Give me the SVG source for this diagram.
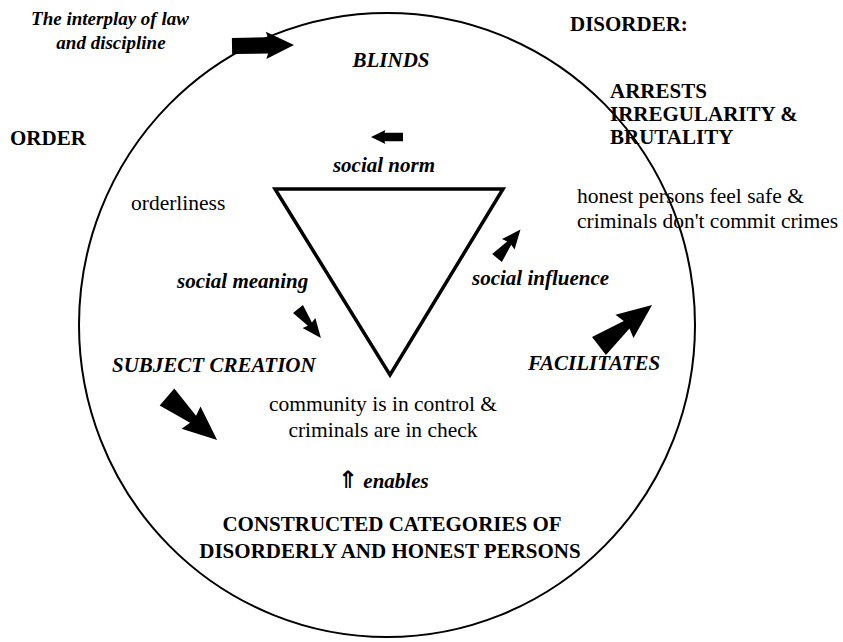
<svg xmlns="http://www.w3.org/2000/svg" xmlns:xlink="http://www.w3.org/1999/xlink" width="843" height="642" viewBox="0 0 843 642">
<style>
text{fill:#000}
.b{font-size:21px;font-weight:bold}
.bi{font-size:21px;font-weight:bold;font-style:italic}
.r{font-size:21.5px}
.ti{font-size:19px;font-weight:bold;font-style:italic}
.m{text-anchor:middle}
.ln{fill:none;stroke:#000}
.ar{fill:#000}
</style>
<defs>
<path id="fl" d="M0,-17 L52,-7 L48,-22 L100,0 L48,22 L52,7 L0,17 Z"/>
<path id="bk" d="M0,-13 L58,-13 L55,-22 L100,0 L55,22 L58,13 L0,13 Z"/>
</defs>
<rect width="843" height="642" fill="#fff"/>
<g id="shapes">
<ellipse class="ln" cx="387" cy="325" rx="308" ry="312" stroke-width="2"/>
<polygon class="ln" points="275,189 503,189 390,375" stroke-width="3.5" stroke-linejoin="miter"/>
</g>
<g id="connectors">
<use class="ar" xlink:href="#bk" transform="translate(232,46) rotate(-1) scale(0.62)"/>
<use class="ar" xlink:href="#bk" transform="translate(403,137) rotate(180) scale(0.32)"/>
<use class="ar" xlink:href="#fl" transform="translate(298,309) rotate(51.8) scale(0.37)"/>
<use class="ar" xlink:href="#fl" transform="translate(497,258) rotate(-50.6) scale(0.37)"/>
<use class="ar" xlink:href="#fl" transform="translate(167,397) rotate(40.6) scale(0.66)"/>
<use class="ar" xlink:href="#fl" transform="translate(599,346) rotate(-37.6) scale(0.67)"/>
</g>
<g font-family="Liberation Serif, Tinos, DejaVu Serif, serif">
<g id="interplay"><text class="ti m" x="110" y="25">The interplay of law</text><text class="ti m" x="111" y="49">and discipline</text></g>
<g id="blinds"><text class="bi m" x="391" y="67">BLINDS</text></g>
<g id="disorder"><text class="b" x="570" y="31">DISORDER:</text></g>
<g id="arrests"><text class="b" x="610" y="98">ARRESTS</text><text class="b" x="610" y="121">IRREGULARITY &amp;</text><text class="b" x="610" y="144">BRUTALITY</text></g>
<g id="order"><text class="b" x="10" y="145">ORDER</text></g>
<g id="orderliness"><text class="r" x="131" y="210">orderliness</text></g>
<g id="honest"><text class="r" x="577" y="203">honest persons feel safe &amp;</text><text class="r" x="577" y="228">criminals don't commit crimes</text></g>
<g id="social-norm"><text class="bi m" x="384" y="172">social norm</text></g>
<g id="social-meaning"><text class="bi" x="177" y="288">social meaning</text></g>
<g id="social-influence"><text class="bi" x="472" y="285">social influence</text></g>
<g id="subject-creation"><text class="bi" x="112" y="372">SUBJECT CREATION</text></g>
<g id="facilitates"><text class="bi" x="528" y="370">FACILITATES</text></g>
<g id="community"><text class="r m" x="383" y="411">community is in control &amp;</text><text class="r m" x="383" y="437">criminals are in check</text></g>
<g id="enables"><text class="bi" x="338" y="488"><tspan font-family="DejaVu Sans, sans-serif" font-style="normal" font-weight="bold" font-size="24">⇑</tspan> enables</text></g>
<g id="categories"><text class="b m" x="392" y="531">CONSTRUCTED CATEGORIES OF</text><text class="b m" x="390" y="558">DISORDERLY AND HONEST PERSONS</text></g>
</g>
</svg>
